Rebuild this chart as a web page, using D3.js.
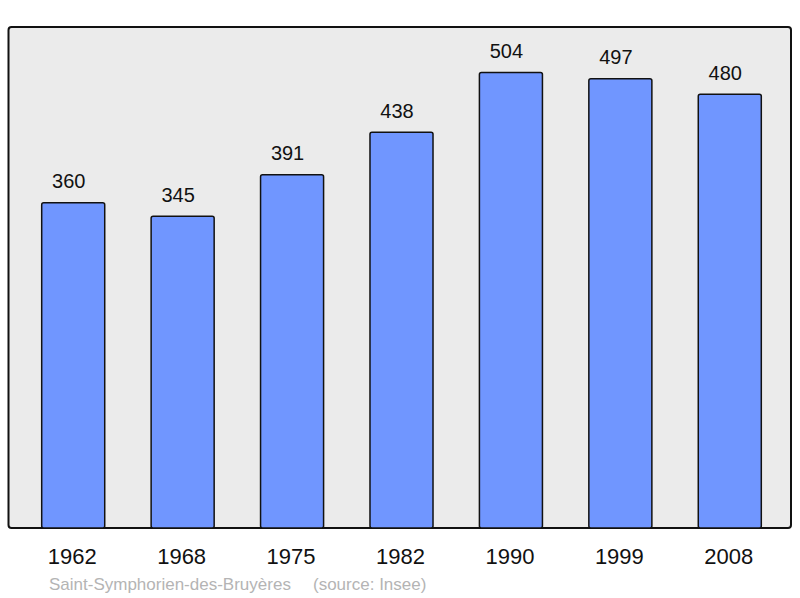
<!DOCTYPE html>
<html><head><meta charset="utf-8">
<script src="https://cdn.jsdelivr.net/npm/d3@7"></script>
<style>body{margin:0;background:#fff}svg{display:block}</style>
</head><body>
<script>
const years = ["1962","1968","1975","1982","1990","1999","2008"];
const population = [360,345,391,438,504,497,480];
const caption = "Saint-Symphorien-des-Bruyères";
const source = "(source: Insee)";

const W=800,H=598;
const font="Liberation Sans, Arial, sans-serif";
const svg=d3.select("body").append("svg").attr("width",W).attr("height",H);
const plot={x0:8.5,x1:791,y0:27,y1:528};
svg.append("rect").attr("x",plot.x0).attr("y",plot.y0)
  .attr("width",plot.x1-plot.x0).attr("height",plot.y1-plot.y0)
  .attr("rx",3).attr("fill","#ebebeb").attr("stroke","#111").attr("stroke-width",2);

const x=d3.scaleBand().domain(years).range([18.5,18.5+766]).paddingInner(0.424).paddingOuter(0.212);
const y=d3.scaleLinear().domain([0,d3.max(population)*1.1]).range([plot.y1,plot.y0]);

const g=svg.append("g");
g.selectAll("rect.bar").data(years).join("rect").attr("class","bar")
  .attr("x",d=>x(d)).attr("width",x.bandwidth())
  .attr("y",(d,i)=>y(population[i])).attr("height",(d,i)=>plot.y1-y(population[i]))
  .attr("rx",2)
  .attr("fill","#7096ff").attr("stroke","#111").attr("stroke-width",1.5);

g.selectAll("text.val").data(years).join("text").attr("class","val")
  .attr("x",d=>x(d)+x.bandwidth()/2-4.5).attr("y",(d,i)=>y(population[i])-14.5)
  .attr("text-anchor","middle").attr("font-family",font)
  .attr("font-size",20).attr("fill","#111").text((d,i)=>population[i]);

g.selectAll("text.yr").data(years).join("text").attr("class","yr")
  .attr("x",d=>x(d)+x.bandwidth()/2-1).attr("y",564)
  .attr("text-anchor","middle").attr("font-family",font)
  .attr("font-size",22).attr("fill","#111").text(d=>d);

svg.append("text").attr("x",49).attr("y",590).attr("font-family",font)
  .attr("font-size",17).attr("fill","#b4b4b4").text(caption);
svg.append("text").attr("x",313).attr("y",590).attr("font-family",font)
  .attr("font-size",17).attr("fill","#b4b4b4").text(source);
</script>
</body></html>
